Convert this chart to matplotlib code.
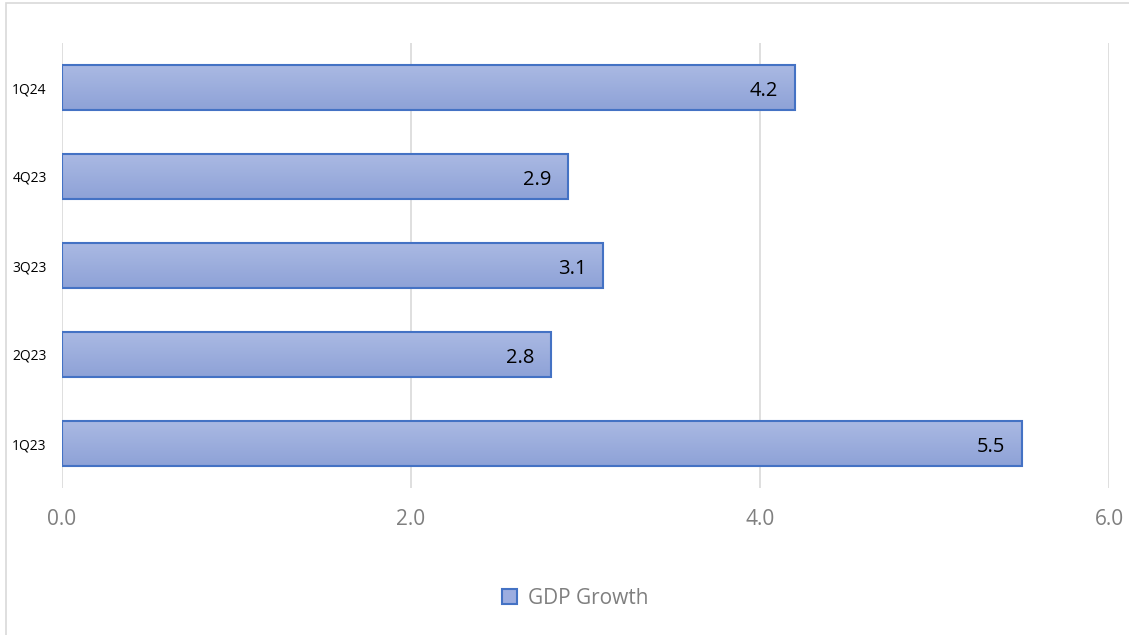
import numpy as np
import matplotlib.pyplot as plt
from matplotlib.patches import Rectangle, Patch
from matplotlib.colors import LinearSegmentedColormap

quarters = ["1Q23", "2Q23", "3Q23", "4Q23", "1Q24"]
gdp_growth = [5.5, 2.8, 3.1, 2.9, 4.2]
x_ticks = [0, 2, 4, 6]

plt.rcParams['font.family'] = ['Open Sans', 'DejaVu Sans']

fig = plt.figure(figsize=(11.29, 6.35), dpi=100)
ax = fig.add_axes([62 / 1129, 1 - 488 / 635, 1047 / 1129, 445 / 635])

# light chart frame (top and left edges visible)
fig.patches.append(Rectangle((6 / 1129, -0.1), 1.2, 1.1 - 3 / 635, transform=fig.transFigure,
                             fill=False, edgecolor="#d9d9d9", linewidth=1.2, zorder=0))

ypos = np.arange(len(quarters))
bars = ax.barh(ypos, gdp_growth, height=0.5, color="none", edgecolor="#4472c4",
               linewidth=1.5, zorder=3)

# vertical gradient fill inside each bar
grad = np.linspace(0, 1, 100).reshape(-1, 1)
cmap = LinearSegmentedColormap.from_list("g", ["#aab9e3", "#8ea2d7"])
for b in bars:
    x0, y0 = b.get_x(), b.get_y()
    w, h = b.get_width(), b.get_height()
    im = ax.imshow(grad, extent=[x0, x0 + w, y0, y0 + h], origin="upper",
                   cmap=cmap, aspect="auto", zorder=2)
    im.set_clip_path(b)

for y, v in zip(ypos, gdp_growth):
    ax.annotate(f"{v:.1f}", xy=(v, y), xytext=(-12, -2.5), textcoords="offset points",
                ha="right", va="center", fontsize=14.5, color="black", zorder=4)

ax.set_xlim(0, 6)
ax.set_ylim(-0.5, len(quarters) - 0.5)
ax.set_xticks(x_ticks)
ax.set_xticklabels([f"{t:.1f}" for t in x_ticks])
ax.set_yticks(ypos)
ax.set_yticklabels(quarters)
ax.tick_params(axis="x", colors="#7f7f7f", labelsize=15, length=0, pad=15)
ax.tick_params(axis="y", colors="black", labelsize=10, length=0, pad=11)
ax.grid(axis="x", color="#d9d9d9", linewidth=1.2, zorder=0)
for s in ax.spines.values():
    s.set_visible(False)

handle = Patch(facecolor="#9cade0", edgecolor="#4472c4", linewidth=1.5)
fig.legend([handle], ["GDP Growth"], loc="center", bbox_to_anchor=(575 / 1129, 1 - 598 / 635),
           frameon=False, fontsize=15, labelcolor="#7f7f7f", handlelength=0.75,
           handleheight=0.75, handletextpad=0.5)

fig.savefig("out.png", dpi=100)
